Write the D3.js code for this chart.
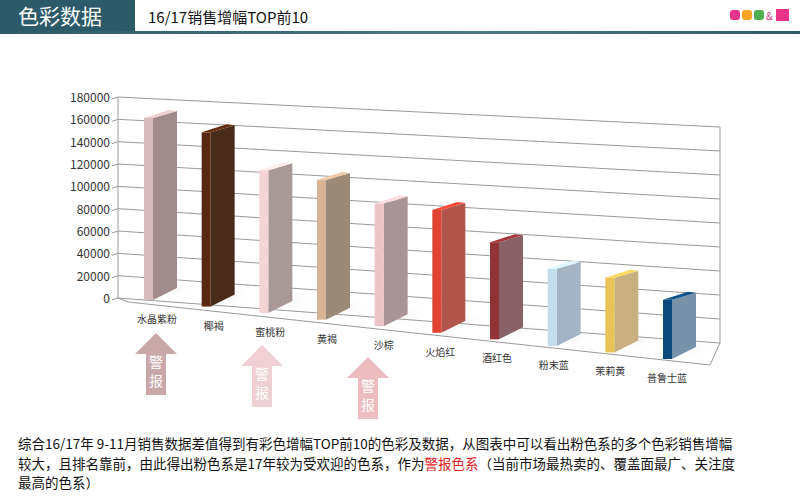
<!DOCTYPE html>
<html>
<head>
<meta charset="UTF-8">
<script src="https://cdn.jsdelivr.net/npm/d3@7"></script>
<style>
  body { margin:0; background:#fff; }
  svg text { font-family: "Noto Sans CJK SC", "Noto Sans", sans-serif; }
</style>
</head>
<body>
<svg id="chart" width="800" height="500"></svg>
<script>
// data
var colors = ["水晶紫粉", "椰褐", "蜜桃粉", "黄褐", "沙棕", "火焰红", "酒红色", "粉末蓝", "茉莉黄", "普鲁士蓝"];
var values = [163000, 156000, 128000, 125000, 110000, 110000, 87000, 69000, 67000, 53000];
var faceColors = ["#d6bcbc", "#5a2810", "#f2d4d4", "#d8b494", "#ecc4c8", "#e24232", "#933236", "#c4dcec", "#eac454", "#0c4a7c"];
var sideColors = ["#a08c8c", "#4a2c1c", "#a89898", "#9c8a78", "#a89496", "#b0544c", "#886068", "#a4b4c4", "#c8b080", "#7892aa"];
var ticks = d3.range(0, 180001, 20000);
var alertIdx = [0, 2, 4];
var alertColors = ["#c8a8a8", "#f0d0d4", "#ecbcc0"];

var svg = d3.select("#chart");

// header
svg.append("rect").attr("x", 0).attr("y", 0).attr("width", 135).attr("height", 32).attr("fill", "#2b5a68");
svg.append("text").attr("x", 18).attr("y", 24).attr("fill", "#fff").attr("font-size", 21).text("色彩数据");
svg.append("text").attr("x", 148).attr("y", 23).attr("fill", "#111").attr("font-size", 15).text("16/17销售增幅TOP前10");
var grad = svg.append("defs").append("linearGradient").attr("id", "hl");
grad.append("stop").attr("offset", "0").attr("stop-color", "#2b5a68");
grad.append("stop").attr("offset", "0.6").attr("stop-color", "#4a7a88");
grad.append("stop").attr("offset", "1").attr("stop-color", "#2b5a68");
svg.append("rect").attr("x", 0).attr("y", 31).attr("width", 800).attr("height", 3).attr("fill", "url(#hl)");
// logo
var logo = [["#e8338a", 730], ["#f5a623", 742], ["#4caf50", 754]];
logo.forEach(function (d) { svg.append("rect").attr("x", d[1]).attr("y", 10).attr("width", 10).attr("height", 10).attr("rx", 3).attr("fill", d[0]); });
svg.append("text").attr("x", 766).attr("y", 20).attr("font-size", 10).attr("fill", "#e8338a").text("&");
svg.append("rect").attr("x", 776).attr("y", 9).attr("width", 13).attr("height", 12).attr("fill", "#e8338a");

// perspective grid: left wall edge x=118, right edge x=720
var yLeft = d3.scaleLinear().domain([0, 180000]).range([298, 97]);
var yRight = d3.scaleLinear().domain([0, 180000]).range([343, 127]);
var g = svg.append("g");
ticks.forEach(function (t) {
  g.append("line").attr("x1", 118).attr("y1", yLeft(t)).attr("x2", 720).attr("y2", yRight(t))
    .attr("stroke", "#9a9a9a").attr("stroke-width", 1);
  g.append("line").attr("x1", 112).attr("y1", yLeft(t) + 2).attr("x2", 118).attr("y2", yLeft(t))
    .attr("stroke", "#9a9a9a");
  g.append("text").attr("x", 110).attr("y", yLeft(t) + 5).attr("text-anchor", "end")
    .attr("font-size", 12).attr("fill", "#333").text(t);
});
g.append("line").attr("x1", 118).attr("y1", yLeft(0)).attr("x2", 118).attr("y2", yLeft(180000)).attr("stroke", "#9a9a9a");
g.append("line").attr("x1", 720).attr("y1", yRight(0)).attr("x2", 720).attr("y2", yRight(180000)).attr("stroke", "#9a9a9a");
// floor front edge
g.append("path").attr("d", "M118,298 L128,302 L710,365 L720,343").attr("fill", "none").attr("stroke", "#9a9a9a");

// bars
var x = d3.scalePoint().domain(colors).range([144, 663]);
var base = d3.scaleLinear().domain([0, colors.length - 1]).range([300, 359]);
var h = d3.scaleLinear().domain([0, 180000]).range([0, 201]);
var shadow = svg.append("defs").append("filter").attr("id", "blur");
shadow.append("feGaussianBlur").attr("stdDeviation", 3);

colors.forEach(function (c, i) {
  var x0 = x(c), b = base(i), t = b - h(values[i]);
  var fw = 9, sw = 24, rise = 12, trise = 7;
  svg.append("path").attr("d", "M" + (x0 + 5) + "," + b + " L" + (x0 + fw + sw + 14) + "," + (b - rise - 4) +
      " L" + (x0 + fw + sw) + "," + (b - rise) + "Z")
    .attr("fill", "#bbb").attr("opacity", 0.6).attr("filter", "url(#blur)");
  svg.append("path").attr("d", "M" + (x0 + fw) + "," + b + " L" + (x0 + fw + sw) + "," + (b - rise) +
      " L" + (x0 + fw + sw) + "," + (t - trise) + " L" + (x0 + fw) + "," + t + "Z").attr("fill", sideColors[i]);
  svg.append("rect").attr("x", x0).attr("y", t).attr("width", fw).attr("height", b - t).attr("fill", faceColors[i]);
  svg.append("path").attr("d", "M" + x0 + "," + t + " L" + (x0 + fw) + "," + t + " L" + (x0 + fw + sw) + "," + (t - trise) +
      " L" + (x0 + sw + 1) + "," + (t - trise - 1) + "Z").attr("fill", d3.color(faceColors[i]).brighter(0.3));
  svg.append("text").attr("x", x0 + 13 - i).attr("y", b + 23).attr("text-anchor", "middle")
    .attr("font-size", 10).attr("fill", "#333").text(c);
});

// alert arrows
var ax = d3.scaleLinear().domain([0, 4]).range([156, 368]);
alertIdx.forEach(function (k, j) {
  var cx = ax(k), top = 333 + k * 6;
  var p = [[cx, top], [cx + 21, top + 21], [cx + 10, top + 21], [cx + 10, top + 62], [cx - 10, top + 62], [cx - 10, top + 21], [cx - 21, top + 21]];
  svg.append("path").attr("d", d3.line()(p) + "Z").attr("fill", alertColors[j]);
  svg.append("text").attr("x", cx).attr("y", top + 34).attr("text-anchor", "middle").attr("fill", "#fff").attr("font-size", 14).text("警");
  svg.append("text").attr("x", cx).attr("y", top + 53).attr("text-anchor", "middle").attr("fill", "#fff").attr("font-size", 14).text("报");
});

// description
var desc = svg.append("text").attr("font-size", 13.5).attr("fill", "#111");
desc.append("tspan").attr("x", 18).attr("y", 449).text("综合16/17年 9-11月销售数据差值得到有彩色增幅TOP前10的色彩及数据，从图表中可以看出粉色系的多个色彩销售增幅");
desc.append("tspan").attr("x", 18).attr("y", 469).text("较大，且排名靠前，由此得出粉色系是17年较为受欢迎的色系，作为");
desc.append("tspan").attr("fill", "#e02020").text("警报色系");
desc.append("tspan").text("（当前市场最热卖的、覆盖面最广、关注度");
desc.append("tspan").attr("x", 18).attr("y", 488).text("最高的色系）");
</script>
</body>
</html>
